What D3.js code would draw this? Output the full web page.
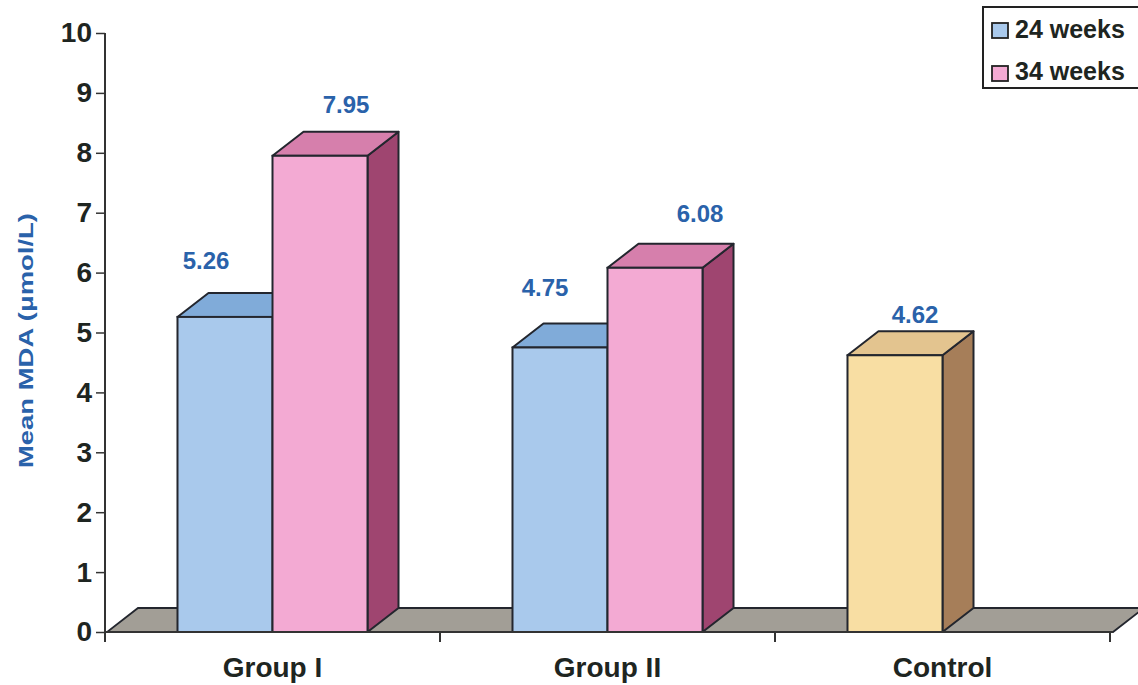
<!DOCTYPE html>
<html>
<head>
<meta charset="utf-8">
<script src="https://cdn.jsdelivr.net/npm/d3@7"></script>
<style>
  html, body { margin: 0; padding: 0; background: #ffffff; }
  svg { display: block; font-family: "Liberation Sans", Arial, sans-serif; }
</style>
</head>
<body>
<svg id="chart" width="1138" height="685"></svg>
<script>
// ---- data ----
const categories = ["Group I", "Group II", "Control"];
const seriesNames = ["24 weeks", "34 weeks"];
const week24 = [5.26, 4.75, null];
const week34 = [7.95, 6.08, null];
const controlValues = [null, null, 4.62];
const yTicks = [0, 1, 2, 3, 4, 5, 6, 7, 8, 9, 10];
const yTitle = "Mean MDA (\u03bcmol/L)";

// ---- styling ----
const palette = {
  "24 weeks": { front: "#a9c9ec", top: "#80abd9", side: "#5f87b8" },
  "34 weeks": { front: "#f3aad3", top: "#d67fac", side: "#9f4570" },
  "Control":  { front: "#f8dea3", top: "#e3c48f", side: "#a67e59" }
};
const edge = "#23262e";
const labelBlue = "#2a62aa";
const textDark = "#1e2521";
const depth = { dx: 31, dy: -24 };

const svg = d3.select("#chart");

const y = d3.scaleLinear().domain([0, 10]).range([632, 33]);
const x = d3.scaleBand().domain(categories).range([105, 1110]).padding(0);
const xs = d3.scaleBand().domain([0, 1]).range([0, x.bandwidth()]).paddingInner(0).paddingOuter(0.763);

// bar records
const bars = [];
categories.forEach((c, i) => {
  if (week24[i] != null) bars.push({ cat: c, slot: 0, key: "24 weeks", v: week24[i] });
  if (week34[i] != null) bars.push({ cat: c, slot: 1, key: "34 weeks", v: week34[i] });
  if (controlValues[i] != null) bars.push({ cat: c, slot: 0, key: "Control", v: controlValues[i] });
});
// value label nudges (relative to front-face centre / top), in draw order
const labelDx = [-19, 26, -15, 45, 20];
const labelDy = [-48, -43, -51, -46, -32];

// ---- floor ----
const x0 = x.range()[0] + 2, x1 = x.range()[1] + 3;
const floorPts = [[x0, y(0)], [x1, y(0)], [x1 + depth.dx, y(0) + depth.dy], [x0 + depth.dx, y(0) + depth.dy]];
svg.append("polygon")
  .attr("points", floorPts.map(p => p.join(",")).join(" "))
  .attr("fill", "#a29e96").attr("stroke", edge).attr("stroke-width", 1.8);

// ---- bars ----
const gBars = svg.append("g");
bars.forEach(b => {
  const bx = x(b.cat) + xs(b.slot);
  const bw = xs.bandwidth();
  const top = y(b.v), base = y(0);
  const c = palette[b.key];
  const g = gBars.append("g");
  g.append("polygon")
    .attr("points", [[bx + bw, base], [bx + bw + depth.dx, base + depth.dy], [bx + bw + depth.dx, top + depth.dy], [bx + bw, top]].map(p => p.join(",")).join(" "))
    .attr("fill", c.side).attr("stroke", edge).attr("stroke-width", 2).attr("stroke-linejoin", "round");
  g.append("polygon")
    .attr("points", [[bx, top], [bx + bw, top], [bx + bw + depth.dx, top + depth.dy], [bx + depth.dx, top + depth.dy]].map(p => p.join(",")).join(" "))
    .attr("fill", c.top).attr("stroke", edge).attr("stroke-width", 2).attr("stroke-linejoin", "round");
  g.append("rect")
    .attr("x", bx).attr("y", top).attr("width", bw).attr("height", base - top)
    .attr("fill", c.front).attr("stroke", edge).attr("stroke-width", 2);
});

// ---- value labels ----
svg.append("g").selectAll("text").data(bars).join("text")
  .attr("x", (b, i) => x(b.cat) + xs(b.slot) + xs.bandwidth() / 2 + labelDx[i])
  .attr("y", (b, i) => y(b.v) + labelDy[i])
  .attr("text-anchor", "middle")
  .attr("font-size", 24).attr("font-weight", "bold")
  .attr("fill", labelBlue)
  .text(b => b.v.toFixed(2));

// ---- y axis ----
const yAxis = svg.append("g").attr("transform", "translate(105,0)")
  .call(d3.axisLeft(y).tickValues(yTicks).tickSize(9).tickPadding(4).tickFormat(d3.format("d")));
yAxis.select(".domain").remove();
yAxis.selectAll(".tick line").attr("stroke", "#333").attr("stroke-width", 1.5);
yAxis.selectAll(".tick text").attr("font-size", 28).attr("font-weight", "bold")
  .attr("fill", textDark).attr("font-family", "Liberation Sans, Arial, sans-serif");
svg.append("line").attr("x1", 105).attr("x2", 105).attr("y1", y(10)).attr("y2", y(0) + 10)
  .attr("stroke", "#333").attr("stroke-width", 2);

// ---- x axis ----
svg.append("line").attr("x1", 105).attr("x2", x1).attr("y1", y(0)).attr("y2", y(0))
  .attr("stroke", "#333").attr("stroke-width", 2);
const xAxis = svg.append("g").attr("transform", `translate(0,${y(0)})`)
  .call(d3.axisBottom(x).tickSize(0).tickPadding(0));
xAxis.select(".domain").remove();
xAxis.selectAll(".tick text").attr("y", 45).attr("dy", 0)
  .attr("font-size", 28).attr("font-weight", "bold")
  .attr("fill", textDark).attr("font-family", "Liberation Sans, Arial, sans-serif");
const bounds = categories.map(c => x(c) + x.bandwidth());
svg.append("g").selectAll("line").data(bounds).join("line")
  .attr("x1", d => d).attr("x2", d => d).attr("y1", y(0)).attr("y2", y(0) + 10)
  .attr("stroke", "#333").attr("stroke-width", 2);

// ---- y title ----
svg.append("text")
  .attr("transform", `translate(33,${(y(0) + y(10)) / 2 + 8}) rotate(-90)`)
  .attr("text-anchor", "middle")
  .attr("font-size", 21).attr("font-weight", "bold")
  .attr("fill", labelBlue)
  .attr("textLength", 255).attr("lengthAdjust", "spacingAndGlyphs")
  .text(yTitle);

// ---- legend ----
const leg = svg.append("g");
leg.append("rect").attr("x", 983).attr("y", 7).attr("width", 170).attr("height", 81)
  .attr("fill", "#ffffff").attr("stroke", "#222").attr("stroke-width", 2);
seriesNames.forEach((s, i) => {
  leg.append("rect").attr("x", 992).attr("y", 23 + i * 43).attr("width", 16).attr("height", 15)
    .attr("fill", palette[s].front).attr("stroke", "#222").attr("stroke-width", 1.8);
  leg.append("text").attr("x", 1015).attr("y", 38 + i * 42)
    .attr("font-size", 25).attr("font-weight", "bold").attr("fill", textDark)
    .text(s);
});
</script>
</body>
</html>
